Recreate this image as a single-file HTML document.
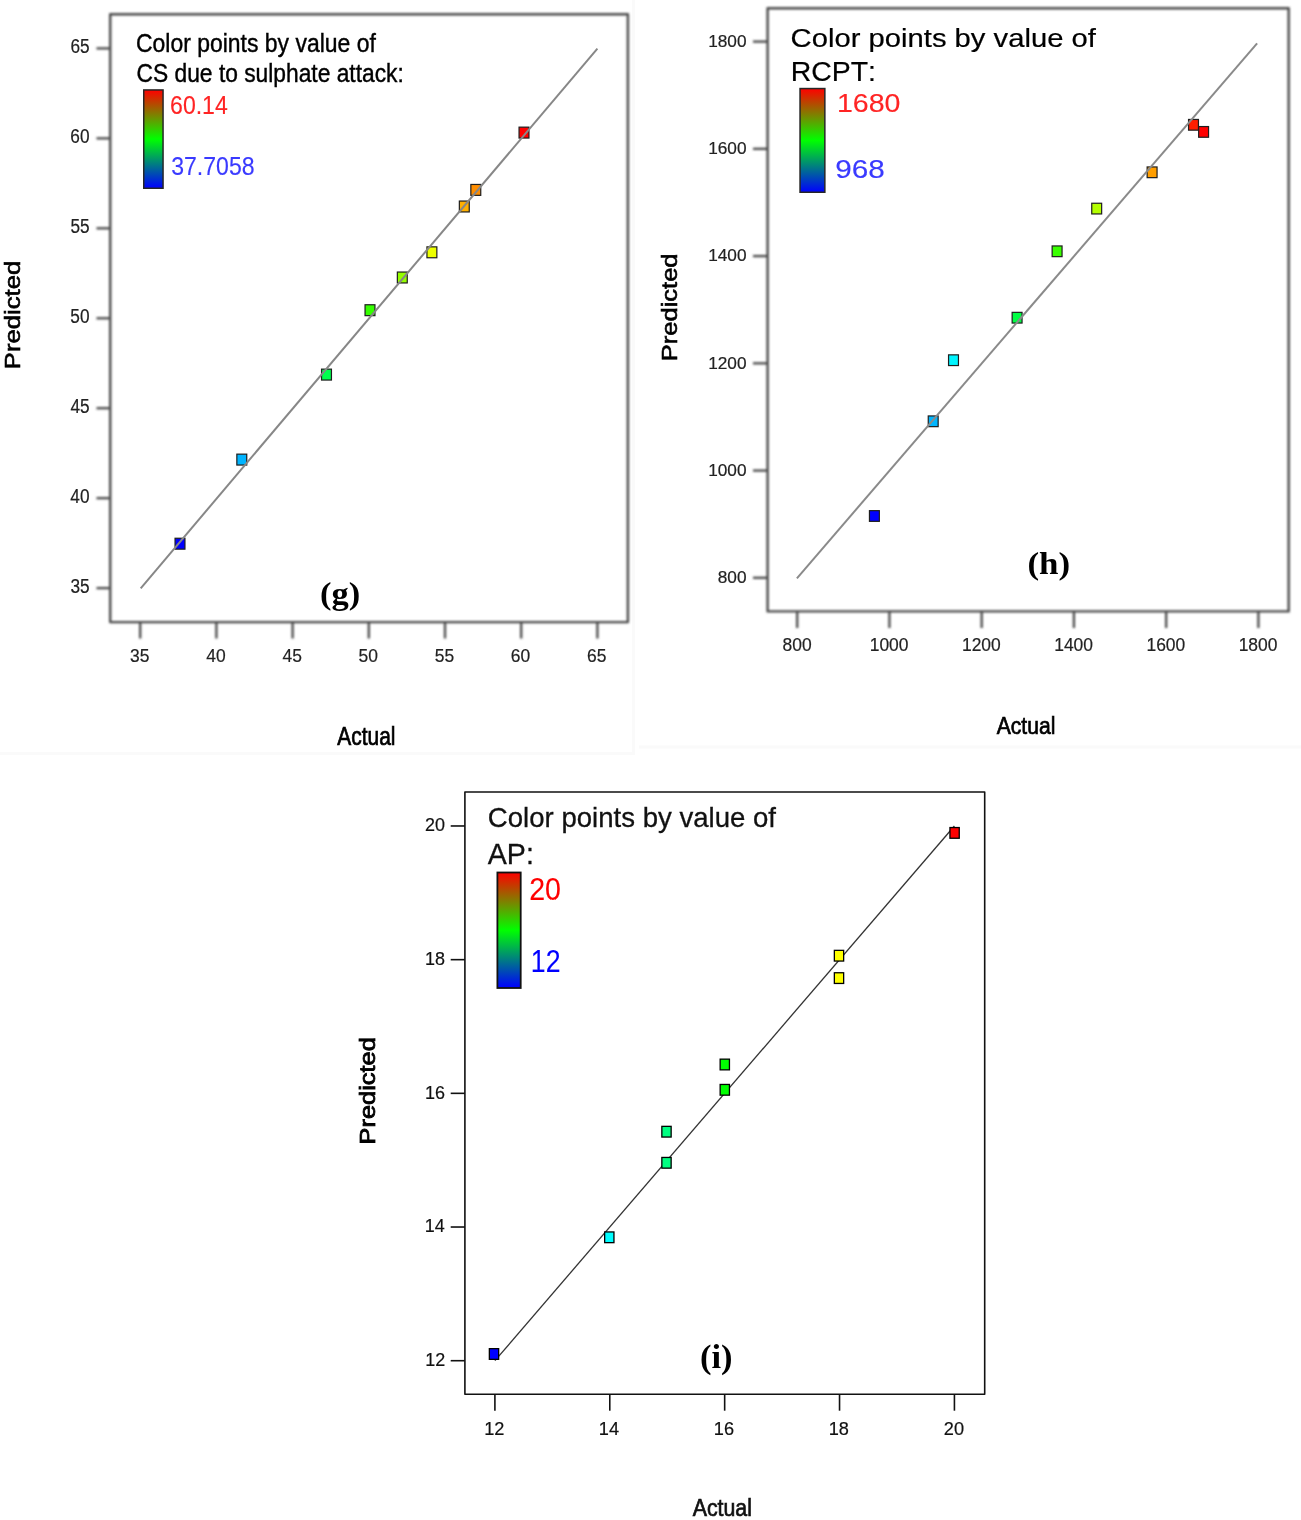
<!DOCTYPE html><html><head><meta charset="utf-8"><title>Predicted vs Actual</title><style>html,body{margin:0;padding:0;background:#fff;overflow:hidden;}svg{display:block;}text{font-kerning:none;}</style></head><body>
<svg width="1301" height="1520" viewBox="0 0 1301 1520">
<defs><linearGradient id="cb" x1="0" y1="0" x2="0" y2="1"><stop offset="0" stop-color="#ff0000"/><stop offset="0.5" stop-color="#00ff00"/><stop offset="1" stop-color="#0000ff"/></linearGradient><filter id="bl" x="-3%" y="-3%" width="106%" height="106%"><feGaussianBlur stdDeviation="0.85"/></filter></defs>
<rect width="1301" height="1520" fill="#fff"/>
<path d="M633.5 0V753.5H0" fill="none" stroke="#fafafa" stroke-width="3"/>
<path d="M639 747H1301" fill="none" stroke="#fafafa" stroke-width="3"/>
<g filter="url(#bl)">
<line x1="96.5" y1="588.10" x2="110.2" y2="588.10" stroke="#484848" stroke-width="2.3"/>
<line x1="96.5" y1="498.15" x2="110.2" y2="498.15" stroke="#484848" stroke-width="2.3"/>
<line x1="96.5" y1="408.20" x2="110.2" y2="408.20" stroke="#484848" stroke-width="2.3"/>
<line x1="96.5" y1="318.25" x2="110.2" y2="318.25" stroke="#484848" stroke-width="2.3"/>
<line x1="96.5" y1="228.30" x2="110.2" y2="228.30" stroke="#484848" stroke-width="2.3"/>
<line x1="96.5" y1="138.35" x2="110.2" y2="138.35" stroke="#484848" stroke-width="2.3"/>
<line x1="96.5" y1="48.40" x2="110.2" y2="48.40" stroke="#484848" stroke-width="2.3"/>
<line x1="140.20" y1="622.1" x2="140.20" y2="638.5" stroke="#484848" stroke-width="2.3"/>
<line x1="216.40" y1="622.1" x2="216.40" y2="638.5" stroke="#484848" stroke-width="2.3"/>
<line x1="292.60" y1="622.1" x2="292.60" y2="638.5" stroke="#484848" stroke-width="2.3"/>
<line x1="368.80" y1="622.1" x2="368.80" y2="638.5" stroke="#484848" stroke-width="2.3"/>
<line x1="445.00" y1="622.1" x2="445.00" y2="638.5" stroke="#484848" stroke-width="2.3"/>
<line x1="521.20" y1="622.1" x2="521.20" y2="638.5" stroke="#484848" stroke-width="2.3"/>
<line x1="597.40" y1="622.1" x2="597.40" y2="638.5" stroke="#484848" stroke-width="2.3"/>
<rect x="110.2" y="14.3" width="517.70" height="607.80" fill="none" stroke="#484848" stroke-width="2.4" stroke-linejoin="round"/>
</g><g>
<text transform="translate(70.42,593.10) scale(0.8568,1)" font-family='"Liberation Sans", Arial, sans-serif' font-size="20.15" font-weight="400" fill="#222" stroke="#222" stroke-width="0.2">35</text>
<text transform="translate(70.37,503.15) scale(0.8568,1)" font-family='"Liberation Sans", Arial, sans-serif' font-size="20.15" font-weight="400" fill="#222" stroke="#222" stroke-width="0.2">40</text>
<text transform="translate(70.42,413.20) scale(0.8568,1)" font-family='"Liberation Sans", Arial, sans-serif' font-size="20.15" font-weight="400" fill="#222" stroke="#222" stroke-width="0.2">45</text>
<text transform="translate(70.37,323.25) scale(0.8568,1)" font-family='"Liberation Sans", Arial, sans-serif' font-size="20.15" font-weight="400" fill="#222" stroke="#222" stroke-width="0.2">50</text>
<text transform="translate(70.42,233.30) scale(0.8568,1)" font-family='"Liberation Sans", Arial, sans-serif' font-size="20.15" font-weight="400" fill="#222" stroke="#222" stroke-width="0.2">55</text>
<text transform="translate(70.37,143.35) scale(0.8568,1)" font-family='"Liberation Sans", Arial, sans-serif' font-size="20.15" font-weight="400" fill="#222" stroke="#222" stroke-width="0.2">60</text>
<text transform="translate(70.42,53.40) scale(0.8568,1)" font-family='"Liberation Sans", Arial, sans-serif' font-size="20.15" font-weight="400" fill="#222" stroke="#222" stroke-width="0.2">65</text>
<text transform="translate(129.92,662.20) scale(0.9371,1)" font-family='"Liberation Sans", Arial, sans-serif' font-size="18.63" font-weight="400" fill="#222" stroke="#222" stroke-width="0.2">35</text>
<text transform="translate(206.23,662.20) scale(0.9371,1)" font-family='"Liberation Sans", Arial, sans-serif' font-size="18.63" font-weight="400" fill="#222" stroke="#222" stroke-width="0.2">40</text>
<text transform="translate(282.46,662.20) scale(0.9371,1)" font-family='"Liberation Sans", Arial, sans-serif' font-size="18.63" font-weight="400" fill="#222" stroke="#222" stroke-width="0.2">45</text>
<text transform="translate(358.48,662.20) scale(0.9371,1)" font-family='"Liberation Sans", Arial, sans-serif' font-size="18.63" font-weight="400" fill="#222" stroke="#222" stroke-width="0.2">50</text>
<text transform="translate(434.71,662.20) scale(0.9371,1)" font-family='"Liberation Sans", Arial, sans-serif' font-size="18.63" font-weight="400" fill="#222" stroke="#222" stroke-width="0.2">55</text>
<text transform="translate(510.79,662.20) scale(0.9371,1)" font-family='"Liberation Sans", Arial, sans-serif' font-size="18.63" font-weight="400" fill="#222" stroke="#222" stroke-width="0.2">60</text>
<text transform="translate(587.01,662.20) scale(0.9371,1)" font-family='"Liberation Sans", Arial, sans-serif' font-size="18.63" font-weight="400" fill="#222" stroke="#222" stroke-width="0.2">65</text>
<rect x="175.05" y="538.25" width="9.9" height="10.9" fill="#0000ff" stroke="#1e1e1e" stroke-width="1.2"/>
<rect x="236.85" y="454.15" width="9.9" height="10.9" fill="#00b4ff" stroke="#1e1e1e" stroke-width="1.2"/>
<rect x="321.55" y="369.15" width="9.9" height="10.9" fill="#00ff4d" stroke="#1e1e1e" stroke-width="1.2"/>
<rect x="365.05" y="304.75" width="9.9" height="10.9" fill="#35ff00" stroke="#1e1e1e" stroke-width="1.2"/>
<rect x="397.35" y="272.05" width="9.9" height="10.9" fill="#95ff00" stroke="#1e1e1e" stroke-width="1.2"/>
<rect x="426.95" y="246.85" width="9.9" height="10.9" fill="#edff00" stroke="#1e1e1e" stroke-width="1.2"/>
<rect x="459.35" y="201.05" width="9.9" height="10.9" fill="#ffb000" stroke="#1e1e1e" stroke-width="1.2"/>
<rect x="470.85" y="184.45" width="9.9" height="10.9" fill="#ff8e00" stroke="#1e1e1e" stroke-width="1.2"/>
<rect x="519.05" y="127.15" width="9.9" height="10.9" fill="#ff0000" stroke="#1e1e1e" stroke-width="1.2"/>
<line x1="140.7" y1="588.3" x2="597.4" y2="48.6" stroke="#878787" stroke-width="2.0"/>
<rect x="143.75" y="89.95" width="19.30" height="98.30" fill="url(#cb)" stroke="#262626" stroke-width="1.5"/>
<text transform="translate(136.03,51.80) scale(0.9141,1)" font-family='"Liberation Sans", Arial, sans-serif' font-size="25.12" font-weight="400" fill="#000" stroke="#000" stroke-width="0.4">Color points by value of</text>
<text transform="translate(136.54,82.40) scale(0.9124,1)" font-family='"Liberation Sans", Arial, sans-serif' font-size="24.98" font-weight="400" fill="#000" stroke="#000" stroke-width="0.4">CS due to sulphate attack:</text>
<text transform="translate(170.10,113.60) scale(0.8644,1)" font-family='"Liberation Sans", Arial, sans-serif' font-size="26.67" font-weight="400" fill="#ff2424" stroke="#ff2424" stroke-width="0.15">60.14</text>
<text transform="translate(171.20,175.10) scale(0.8881,1)" font-family='"Liberation Sans", Arial, sans-serif' font-size="25.96" font-weight="400" fill="#3a3aff" stroke="#3a3aff" stroke-width="0.15">37.7058</text>
<text transform="translate(337.31,745.20) scale(0.8413,1)" font-family='"Liberation Sans", Arial, sans-serif' font-size="24.91" font-weight="400" fill="#000" stroke="#000" stroke-width="0.7">Actual</text>
<text transform="translate(20.20,369.21) rotate(-90) scale(1.1484,1)" font-family='"Liberation Sans", Arial, sans-serif' font-size="22.36" font-weight="400" fill="#000" stroke="#000" stroke-width="0.6">Predicted</text>
</g>
<g>
<text transform="translate(319.98,604.30) scale(1.1034,1)" font-family='"Liberation Serif", "Times New Roman", serif' font-size="31.27" font-weight="700" fill="#000">(g)</text>
</g>
<g filter="url(#bl)">
<line x1="753.0" y1="577.80" x2="767.6" y2="577.80" stroke="#484848" stroke-width="2.3"/>
<line x1="753.0" y1="470.56" x2="767.6" y2="470.56" stroke="#484848" stroke-width="2.3"/>
<line x1="753.0" y1="363.32" x2="767.6" y2="363.32" stroke="#484848" stroke-width="2.3"/>
<line x1="753.0" y1="256.08" x2="767.6" y2="256.08" stroke="#484848" stroke-width="2.3"/>
<line x1="753.0" y1="148.84" x2="767.6" y2="148.84" stroke="#484848" stroke-width="2.3"/>
<line x1="753.0" y1="41.60" x2="767.6" y2="41.60" stroke="#484848" stroke-width="2.3"/>
<line x1="797.20" y1="611.4" x2="797.20" y2="628.0" stroke="#484848" stroke-width="2.3"/>
<line x1="889.44" y1="611.4" x2="889.44" y2="628.0" stroke="#484848" stroke-width="2.3"/>
<line x1="981.68" y1="611.4" x2="981.68" y2="628.0" stroke="#484848" stroke-width="2.3"/>
<line x1="1073.92" y1="611.4" x2="1073.92" y2="628.0" stroke="#484848" stroke-width="2.3"/>
<line x1="1166.16" y1="611.4" x2="1166.16" y2="628.0" stroke="#484848" stroke-width="2.3"/>
<line x1="1258.40" y1="611.4" x2="1258.40" y2="628.0" stroke="#484848" stroke-width="2.3"/>
<rect x="767.6" y="8.3" width="521.10" height="603.10" fill="none" stroke="#484848" stroke-width="2.4" stroke-linejoin="round"/>
</g><g>
<text transform="translate(717.78,583.00) scale(0.9924,1)" font-family='"Liberation Sans", Arial, sans-serif' font-size="17.39" font-weight="400" fill="#222" stroke="#222" stroke-width="0.2">800</text>
<text transform="translate(708.19,475.76) scale(0.9924,1)" font-family='"Liberation Sans", Arial, sans-serif' font-size="17.39" font-weight="400" fill="#222" stroke="#222" stroke-width="0.2">1000</text>
<text transform="translate(708.19,368.52) scale(0.9924,1)" font-family='"Liberation Sans", Arial, sans-serif' font-size="17.39" font-weight="400" fill="#222" stroke="#222" stroke-width="0.2">1200</text>
<text transform="translate(708.19,261.28) scale(0.9924,1)" font-family='"Liberation Sans", Arial, sans-serif' font-size="17.39" font-weight="400" fill="#222" stroke="#222" stroke-width="0.2">1400</text>
<text transform="translate(708.19,154.04) scale(0.9924,1)" font-family='"Liberation Sans", Arial, sans-serif' font-size="17.39" font-weight="400" fill="#222" stroke="#222" stroke-width="0.2">1600</text>
<text transform="translate(708.19,46.80) scale(0.9924,1)" font-family='"Liberation Sans", Arial, sans-serif' font-size="17.39" font-weight="400" fill="#222" stroke="#222" stroke-width="0.2">1800</text>
<text transform="translate(782.61,651.40) scale(0.9364,1)" font-family='"Liberation Sans", Arial, sans-serif' font-size="18.63" font-weight="400" fill="#222" stroke="#222" stroke-width="0.2">800</text>
<text transform="translate(869.71,651.40) scale(0.9364,1)" font-family='"Liberation Sans", Arial, sans-serif' font-size="18.63" font-weight="400" fill="#222" stroke="#222" stroke-width="0.2">1000</text>
<text transform="translate(961.95,651.40) scale(0.9364,1)" font-family='"Liberation Sans", Arial, sans-serif' font-size="18.63" font-weight="400" fill="#222" stroke="#222" stroke-width="0.2">1200</text>
<text transform="translate(1054.19,651.40) scale(0.9364,1)" font-family='"Liberation Sans", Arial, sans-serif' font-size="18.63" font-weight="400" fill="#222" stroke="#222" stroke-width="0.2">1400</text>
<text transform="translate(1146.43,651.40) scale(0.9364,1)" font-family='"Liberation Sans", Arial, sans-serif' font-size="18.63" font-weight="400" fill="#222" stroke="#222" stroke-width="0.2">1600</text>
<text transform="translate(1238.67,651.40) scale(0.9364,1)" font-family='"Liberation Sans", Arial, sans-serif' font-size="18.63" font-weight="400" fill="#222" stroke="#222" stroke-width="0.2">1800</text>
<rect x="869.45" y="510.65" width="9.9" height="10.7" fill="#0000ff" stroke="#1e1e1e" stroke-width="1.2"/>
<rect x="928.25" y="415.95" width="9.9" height="10.7" fill="#00b6ff" stroke="#1e1e1e" stroke-width="1.2"/>
<rect x="948.55" y="354.85" width="9.9" height="10.7" fill="#00f5ff" stroke="#1e1e1e" stroke-width="1.2"/>
<rect x="1012.15" y="312.35" width="9.9" height="10.7" fill="#00ff44" stroke="#1e1e1e" stroke-width="1.2"/>
<rect x="1052.15" y="245.95" width="9.9" height="10.7" fill="#39ff00" stroke="#1e1e1e" stroke-width="1.2"/>
<rect x="1091.75" y="203.25" width="9.9" height="10.7" fill="#b4ff00" stroke="#1e1e1e" stroke-width="1.2"/>
<rect x="1147.15" y="166.95" width="9.9" height="10.7" fill="#ff9e00" stroke="#1e1e1e" stroke-width="1.2"/>
<rect x="1188.55" y="119.45" width="9.9" height="10.7" fill="#ff1e00" stroke="#1e1e1e" stroke-width="1.2"/>
<rect x="1198.65" y="126.55" width="9.9" height="10.7" fill="#ff0000" stroke="#1e1e1e" stroke-width="1.2"/>
<line x1="796.9" y1="578.3" x2="1257.1" y2="43.4" stroke="#8a8a8a" stroke-width="2.0"/>
<rect x="800.05" y="88.55" width="24.80" height="103.70" fill="url(#cb)" stroke="#262626" stroke-width="1.5"/>
<text transform="translate(790.62,47.20) scale(1.1573,1)" font-family='"Liberation Sans", Arial, sans-serif' font-size="25.25" font-weight="400" fill="#000" stroke="#000" stroke-width="0.2">Color points by value of</text>
<text transform="translate(790.67,80.60) scale(1.0453,1)" font-family='"Liberation Sans", Arial, sans-serif' font-size="27.21" font-weight="400" fill="#000" stroke="#000" stroke-width="0.2">RCPT:</text>
<text transform="translate(836.90,112.00) scale(1.0766,1)" font-family='"Liberation Sans", Arial, sans-serif' font-size="26.53" font-weight="400" fill="#ff2424" stroke="#ff2424" stroke-width="0.15">1680</text>
<text transform="translate(835.18,178.30) scale(1.1695,1)" font-family='"Liberation Sans", Arial, sans-serif' font-size="25.39" font-weight="400" fill="#3a3aff" stroke="#3a3aff" stroke-width="0.15">968</text>
<text transform="translate(996.71,734.00) scale(0.8679,1)" font-family='"Liberation Sans", Arial, sans-serif' font-size="24.36" font-weight="400" fill="#000" stroke="#000" stroke-width="0.7">Actual</text>
<text transform="translate(677.00,361.19) rotate(-90) scale(1.1337,1)" font-family='"Liberation Sans", Arial, sans-serif' font-size="22.49" font-weight="400" fill="#000" stroke="#000" stroke-width="0.6">Predicted</text>
</g>
<g>
<text transform="translate(1027.46,573.57) scale(1.0906,1)" font-family='"Liberation Serif", "Times New Roman", serif' font-size="32.09" font-weight="700" fill="#000">(h)</text>
</g>
<g>
<line x1="450.7" y1="1360.70" x2="464.9" y2="1360.70" stroke="#111" stroke-width="1.6"/>
<line x1="450.7" y1="1227.02" x2="464.9" y2="1227.02" stroke="#111" stroke-width="1.6"/>
<line x1="450.7" y1="1093.34" x2="464.9" y2="1093.34" stroke="#111" stroke-width="1.6"/>
<line x1="450.7" y1="959.66" x2="464.9" y2="959.66" stroke="#111" stroke-width="1.6"/>
<line x1="450.7" y1="825.98" x2="464.9" y2="825.98" stroke="#111" stroke-width="1.6"/>
<line x1="494.90" y1="1394.2" x2="494.90" y2="1410.7" stroke="#111" stroke-width="1.6"/>
<line x1="609.78" y1="1394.2" x2="609.78" y2="1410.7" stroke="#111" stroke-width="1.6"/>
<line x1="724.66" y1="1394.2" x2="724.66" y2="1410.7" stroke="#111" stroke-width="1.6"/>
<line x1="839.54" y1="1394.2" x2="839.54" y2="1410.7" stroke="#111" stroke-width="1.6"/>
<line x1="954.42" y1="1394.2" x2="954.42" y2="1410.7" stroke="#111" stroke-width="1.6"/>
<rect x="464.9" y="792.0" width="519.80" height="602.20" fill="none" stroke="#111" stroke-width="1.6" stroke-linejoin="round"/>
<text transform="translate(425.20,1365.90) scale(0.9445,1)" font-family='"Liberation Sans", Arial, sans-serif' font-size="19.04" font-weight="400" fill="#111" stroke="#111" stroke-width="0.2">12</text>
<text transform="translate(424.82,1232.22) scale(0.9445,1)" font-family='"Liberation Sans", Arial, sans-serif' font-size="19.04" font-weight="400" fill="#111" stroke="#111" stroke-width="0.2">14</text>
<text transform="translate(425.08,1098.54) scale(0.9445,1)" font-family='"Liberation Sans", Arial, sans-serif' font-size="19.04" font-weight="400" fill="#111" stroke="#111" stroke-width="0.2">16</text>
<text transform="translate(425.07,964.86) scale(0.9445,1)" font-family='"Liberation Sans", Arial, sans-serif' font-size="19.04" font-weight="400" fill="#111" stroke="#111" stroke-width="0.2">18</text>
<text transform="translate(425.00,831.18) scale(0.9445,1)" font-family='"Liberation Sans", Arial, sans-serif' font-size="19.04" font-weight="400" fill="#111" stroke="#111" stroke-width="0.2">20</text>
<text transform="translate(484.15,1435.00) scale(0.9617,1)" font-family='"Liberation Sans", Arial, sans-serif' font-size="18.91" font-weight="400" fill="#111" stroke="#111" stroke-width="0.2">12</text>
<text transform="translate(598.84,1435.00) scale(0.9617,1)" font-family='"Liberation Sans", Arial, sans-serif' font-size="18.91" font-weight="400" fill="#111" stroke="#111" stroke-width="0.2">14</text>
<text transform="translate(713.85,1435.00) scale(0.9617,1)" font-family='"Liberation Sans", Arial, sans-serif' font-size="18.91" font-weight="400" fill="#111" stroke="#111" stroke-width="0.2">16</text>
<text transform="translate(828.73,1435.00) scale(0.9617,1)" font-family='"Liberation Sans", Arial, sans-serif' font-size="18.91" font-weight="400" fill="#111" stroke="#111" stroke-width="0.2">18</text>
<text transform="translate(943.81,1435.00) scale(0.9617,1)" font-family='"Liberation Sans", Arial, sans-serif' font-size="18.91" font-weight="400" fill="#111" stroke="#111" stroke-width="0.2">20</text>
<line x1="494.9" y1="1360.7" x2="954.4" y2="826.0" stroke="#333" stroke-width="1.3"/>
<rect x="489.35" y="1348.65" width="9.3" height="10.7" fill="#0000ff" stroke="#000" stroke-width="1.3"/>
<rect x="604.65" y="1231.95" width="9.3" height="10.7" fill="#00feff" stroke="#000" stroke-width="1.3"/>
<rect x="661.85" y="1126.35" width="9.3" height="10.7" fill="#00ff81" stroke="#000" stroke-width="1.3"/>
<rect x="661.85" y="1157.45" width="9.3" height="10.7" fill="#00ff81" stroke="#000" stroke-width="1.3"/>
<rect x="720.15" y="1059.15" width="9.3" height="10.7" fill="#00ff00" stroke="#000" stroke-width="1.3"/>
<rect x="720.15" y="1084.45" width="9.3" height="10.7" fill="#00ff00" stroke="#000" stroke-width="1.3"/>
<rect x="834.35" y="950.35" width="9.3" height="10.7" fill="#feff00" stroke="#000" stroke-width="1.3"/>
<rect x="834.35" y="972.75" width="9.3" height="10.7" fill="#feff00" stroke="#000" stroke-width="1.3"/>
<rect x="949.95" y="827.55" width="9.3" height="10.7" fill="#ff0000" stroke="#000" stroke-width="1.3"/>
<rect x="497.40" y="872.50" width="23.30" height="115.50" fill="url(#cb)" stroke="#111" stroke-width="1.8"/>
<text transform="translate(487.85,827.30) scale(0.9822,1)" font-family='"Liberation Sans", Arial, sans-serif' font-size="28.08" font-weight="400" fill="#111" stroke="#111" stroke-width="0.3">Color points by value of</text>
<text transform="translate(487.79,863.80) scale(0.9430,1)" font-family='"Liberation Sans", Arial, sans-serif' font-size="30.31" font-weight="400" fill="#111" stroke="#111" stroke-width="0.3">AP:</text>
<text transform="translate(529.21,900.30) scale(0.9292,1)" font-family='"Liberation Sans", Arial, sans-serif' font-size="30.72" font-weight="400" fill="#ff0000" stroke="#ff0000" stroke-width="0.1">20</text>
<text transform="translate(530.82,972.40) scale(0.8644,1)" font-family='"Liberation Sans", Arial, sans-serif' font-size="30.86" font-weight="400" fill="#0000ff" stroke="#0000ff" stroke-width="0.1">12</text>
<text transform="translate(692.71,1516.40) scale(0.8705,1)" font-family='"Liberation Sans", Arial, sans-serif' font-size="24.50" font-weight="400" fill="#111" stroke="#111" stroke-width="0.7">Actual</text>
<text transform="translate(374.60,1144.38) rotate(-90) scale(1.1566,1)" font-family='"Liberation Sans", Arial, sans-serif' font-size="21.94" font-weight="400" fill="#000" stroke="#000" stroke-width="0.8">Predicted</text>
</g>
<g>
<text transform="translate(699.98,1368.41) scale(1.0383,1)" font-family='"Liberation Serif", "Times New Roman", serif' font-size="33.31" font-weight="700" fill="#000">(i)</text>
</g>
</svg></body></html>
